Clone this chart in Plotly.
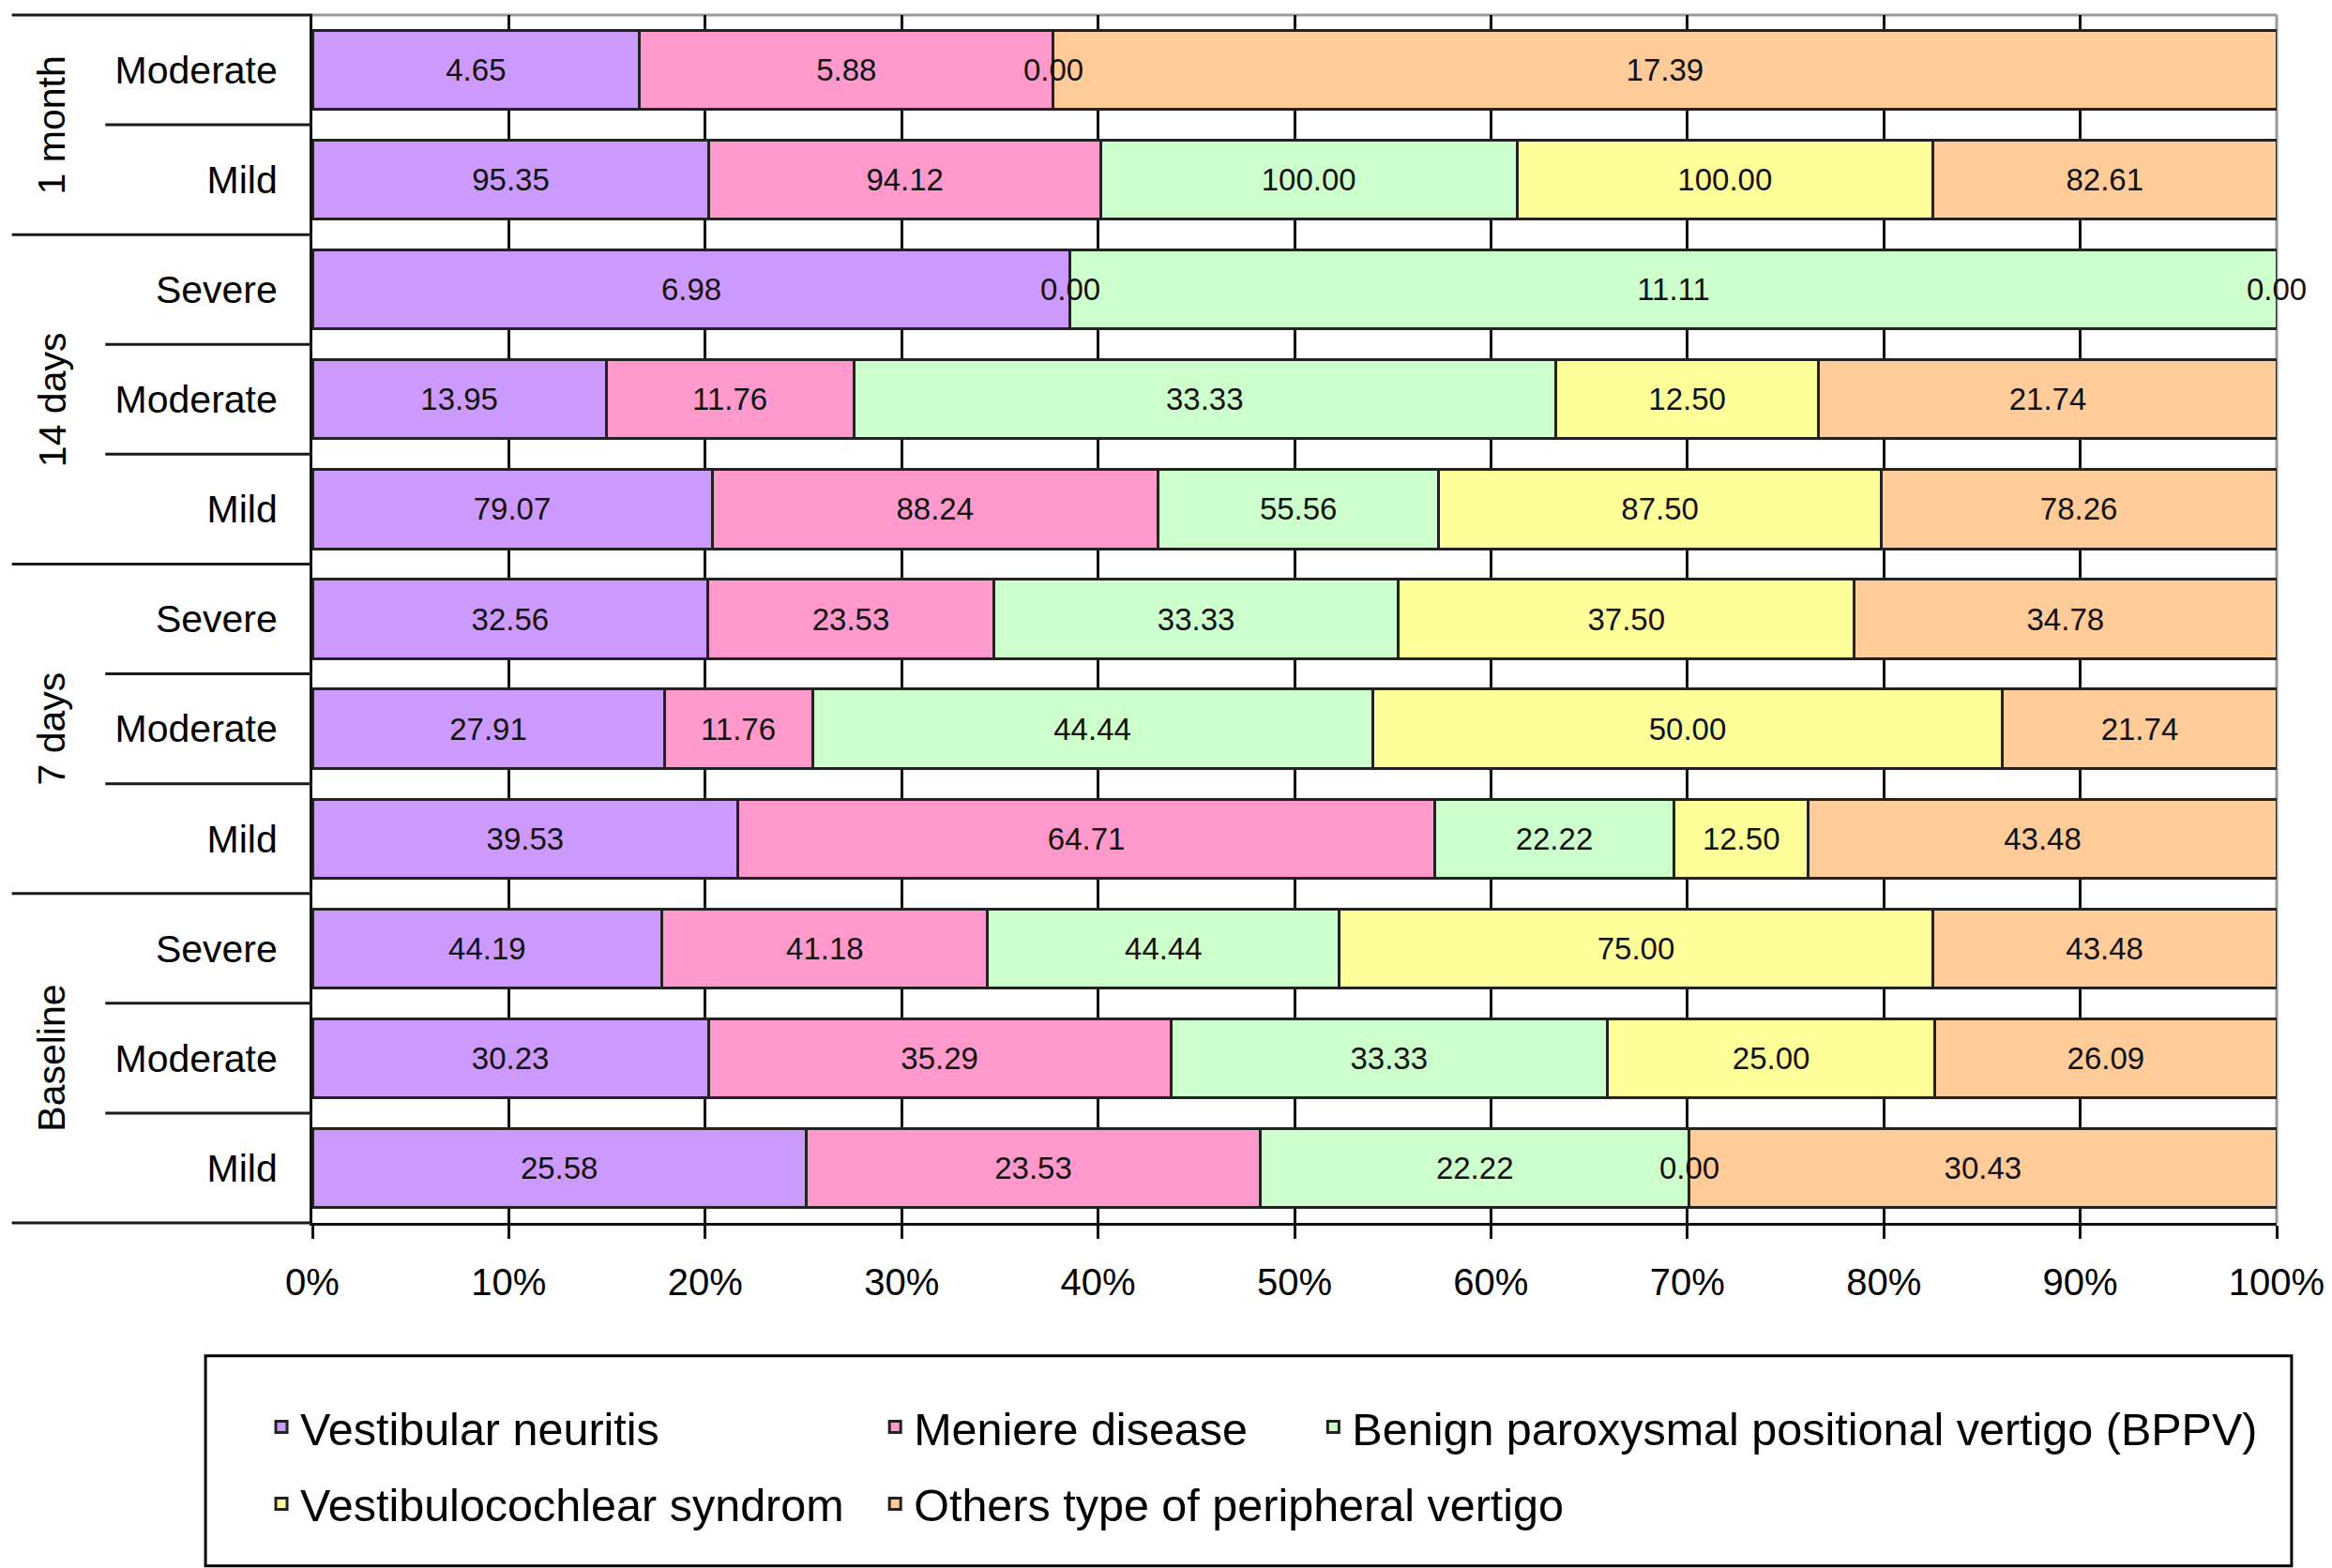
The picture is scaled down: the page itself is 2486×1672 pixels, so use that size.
import plotly.graph_objects as go

# ---------------- data (rows listed bottom -> top) ----------------
time_points = ["Baseline", "Baseline", "Baseline",
               "7 days", "7 days", "7 days",
               "14 days", "14 days", "14 days",
               "1 month", "1 month"]
severity = ["Mild", "Moderate", "Severe",
            "Mild", "Moderate", "Severe",
            "Mild", "Moderate", "Severe",
            "Mild", "Moderate"]

series_names = ["Vestibular neuritis", "Meniere disease",
                "Benign paroxysmal positional vertigo (BPPV)",
                "Vestibulocochlear syndrom", "Others type of peripheral vertigo"]

vestibular_neuritis = [25.58, 30.23, 44.19, 39.53, 27.91, 32.56, 79.07, 13.95, 6.98, 95.35, 4.65]
meniere_disease = [23.53, 35.29, 41.18, 64.71, 11.76, 23.53, 88.24, 11.76, 0.00, 94.12, 5.88]
bppv = [22.22, 33.33, 44.44, 22.22, 44.44, 33.33, 55.56, 33.33, 11.11, 100.00, 0.00]
vestibulocochlear = [0.00, 25.00, 75.00, 12.50, 50.00, 37.50, 87.50, 12.50, None, 100.00, None]
others = [30.43, 26.09, 43.48, 43.48, 21.74, 34.78, 78.26, 21.74, 0.00, 82.61, 17.39]

series_values = [vestibular_neuritis, meniere_disease, bppv, vestibulocochlear, others]
colors = ["#CC99FF", "#FF99CC", "#CCFFCC", "#FFFF99", "#FFCC99"]

x_ticks = [0, 10, 20, 30, 40, 50, 60, 70, 80, 90, 100]
x_tick_labels = ["0%", "10%", "20%", "30%", "40%", "50%", "60%", "70%", "80%", "90%", "100%"]

# ---------------- figure ----------------
categories = [f"{t} {s}" for t, s in zip(time_points, severity)]
n = len(categories)
FONT = "Liberation Sans, Arial, Helvetica, sans-serif"

fig = go.Figure()
legend_ids = ["legend", "legend2", "legend3", "legend4", "legend5"]
for name, vals, col, lg in zip(series_names, series_values, colors, legend_ids):
    txt = ["" if (v is None or v == 0) else f"{v:.2f}" for v in vals]
    fig.add_trace(go.Bar(
        y=categories, x=vals, name=name, orientation="h",
        marker=dict(color=col, line=dict(color="#222222", width=3)),
        text=txt, textposition="inside", insidetextanchor="middle",
        textangle=0, constraintext="none",
        textfont=dict(family=FONT, size=33, color="#111111"),
        legend=lg,
    ))

annotations = []
# labels for zero-valued segments (zero width, drawn at the stack boundary)
for i in range(n):
    row = [s[i] for s in series_values]
    total = sum(v for v in row if v is not None)
    cum = 0.0
    for v in row:
        if v is None:
            continue
        if v == 0:
            annotations.append(dict(
                x=cum / total * 100, y=categories[i], xref="x", yref="y",
                xanchor="center", yanchor="middle",
                text="0.00", showarrow=False,
                font=dict(family=FONT, size=33, color="#111111")))
        cum += v

# group labels (rotated)
groups = []
for i, t in enumerate(time_points):
    if not groups or groups[-1][0] != t:
        groups.append([t, i, i])
    else:
        groups[-1][2] = i
for t, a, b in groups:
    annotations.append(dict(
        x=-0.1326, xref="paper", y=(a + b) / 2, yref="y",
        xanchor="center", yanchor="middle",
        text=t, textangle=-90, showarrow=False,
        font=dict(family=FONT, size=41, color="black")))

shapes = []
# separators left of the plot
for k in range(n + 1):
    yp = k / n
    is_group = k == 0 or k == n or time_points[k] != time_points[k - 1]
    x0 = -0.153 if is_group else -0.1054
    shapes.append(dict(type="line", xref="paper", yref="paper",
                       x0=x0, x1=0, y0=yp, y1=yp,
                       line=dict(color="#1a1a1a", width=3), layer="above"))
# plot area border (top/right, gray)
shapes.append(dict(type="line", xref="paper", yref="paper", x0=0, x1=1, y0=1, y1=1,
                   line=dict(color="#9a9a9a", width=3), layer="between"))
shapes.append(dict(type="line", xref="paper", yref="paper", x0=1, x1=1, y0=0, y1=1,
                   line=dict(color="#9a9a9a", width=3), layer="between"))
# legend frame
shapes.append(dict(type="rect", xref="paper", yref="paper",
                   x0=-0.0544, x1=1.0076, y0=-0.284, y1=-0.110,
                   line=dict(color="black", width=3), fillcolor="rgba(0,0,0,0)"))

leg_common = dict(font=dict(family=FONT, size=48.5, color="black"),
                  bgcolor="rgba(0,0,0,0)", borderwidth=0,
                  xanchor="left", yanchor="middle", orientation="h")
leg_pos = [(-0.0253, -0.1693), (0.2871, -0.1693), (0.5102, -0.1693),
           (-0.0253, -0.2329), (0.2871, -0.2329)]
legend_layout = {}
for lg, (lx, ly) in zip(legend_ids, leg_pos):
    legend_layout[lg] = dict(x=lx, y=ly, **leg_common)

fig.update_layout(
    width=2478, height=1664,
    margin=dict(l=325, r=52, t=8, b=368, pad=0),
    paper_bgcolor="white", plot_bgcolor="white",
    barmode="stack", barnorm="percent", bargap=0.28,
    showlegend=True,
    font=dict(family=FONT, color="black"),
    xaxis=dict(range=[0, 100], tickvals=x_ticks, ticktext=x_tick_labels,
               showgrid=True, gridcolor="#111111", gridwidth=3,
               showline=True, linecolor="#111111", linewidth=3,
               ticks="outside", ticklen=14, tickwidth=3, tickcolor="#111111",
               tickfont=dict(family=FONT, size=40, color="black"),
               ticklabelstandoff=12, zeroline=False, fixedrange=True),
    yaxis=dict(type="category", categoryorder="array", categoryarray=categories,
               range=[-0.5, n - 0.5],
               tickvals=categories, ticktext=severity,
               showgrid=False, showline=True, linecolor="#111111", linewidth=3,
               ticks="", tickfont=dict(family=FONT, size=41, color="black"),
               ticklabelstandoff=26, zeroline=False, fixedrange=True),
    annotations=annotations,
    shapes=shapes,
    **legend_layout,
)

fig.write_html("out.html")
